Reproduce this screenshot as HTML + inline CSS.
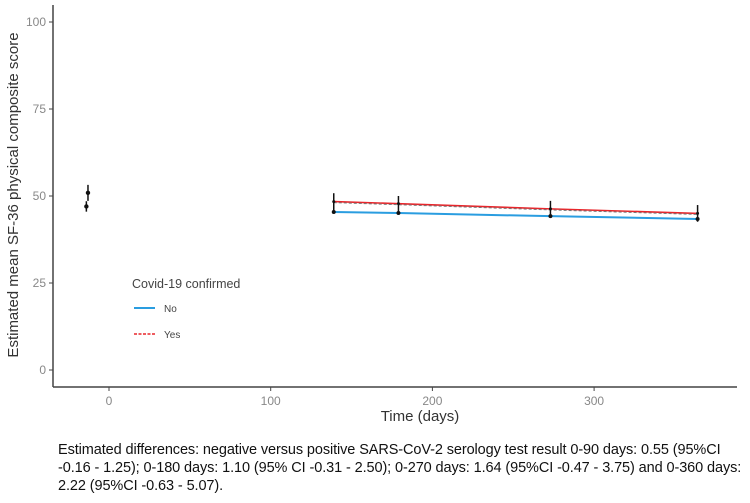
<!DOCTYPE html>
<html><head><meta charset="utf-8"><style>
body{margin:0;background:#fff;width:750px;height:503px;overflow:hidden;font-family:"Liberation Sans",sans-serif}
#cap{position:absolute;left:58px;top:441px;width:692px;font-size:14.5px;line-height:18px;color:#111;white-space:nowrap;letter-spacing:-0.1px}
</style></head><body>
<svg id="chart" width="750" height="440" style="position:absolute;left:0;top:0"></svg>
<div id="cap">Estimated differences: negative versus positive SARS-CoV-2 serology test result 0-90 days: 0.55 (95%CI<br>-0.16 - 1.25); 0-180 days: 1.10 (95% CI -0.31 - 2.50); 0-270 days: 1.64 (95%CI -0.47 - 3.75) and 0-360 days:<br>2.22 (95%CI -0.63 - 5.07).</div>
<script>
const xTicks=[0,100,200,300];
const yTicks=[0,25,50,75,100];
const baseDays=[-14,-13];
const baseVals=[47.0,50.9];
const baseLo=[45.5,48.6];
const baseHi=[48.5,53.2];
const days=[139,179,273,364];
const noVals=[45.4,45.1,44.2,43.4];
const yesVals=[48.4,47.8,46.3,45.0];
const yesLo=[45.8,45.4,44.0,42.6];
const yesHi=[50.8,50.0,48.6,47.4];
const NS="http://www.w3.org/2000/svg";
const svg=document.getElementById('chart');
const X=d=>109+d*1.617, Y=v=>370-v*3.48;
function el(t,a,name,parent){const e=document.createElementNS(NS,t);for(const k in a)e.setAttribute(k,a[k]);


(parent||svg).appendChild(e);return e;}
el('line',{x1:53,y1:5,x2:53,y2:387,stroke:'#444','stroke-width':1.5},'y-axis-line');
el('line',{x1:53,y1:387,x2:737,y2:387,stroke:'#444','stroke-width':1.5},'x-axis-line');
yTicks.forEach(v=>{el('line',{x1:49,y1:Y(v),x2:53,y2:Y(v),stroke:'#444'},'y-tick');
const t=el('text',{x:46,y:Y(v)+4,'text-anchor':'end','font-size':12,fill:'#888'},'y-tick-label');t.textContent=v;});
xTicks.forEach(d=>{el('line',{x1:X(d),y1:387,x2:X(d),y2:391,stroke:'#444'},'x-tick');
const t=el('text',{x:X(d),y:405,'text-anchor':'middle','font-size':12,fill:'#888'},'x-tick-label');t.textContent=d;});
let t=el('text',{x:420,y:421,'text-anchor':'middle','font-size':15,fill:'#333'},'x-axis-title');t.textContent='Time (days)';
t=el('text',{x:0,y:0,'text-anchor':'middle','font-size':15,fill:'#333',transform:'translate(18,195) rotate(-90)'},'y-axis-title');t.textContent='Estimated mean SF-36 physical composite score';
el('polyline',{points:days.map((d,i)=>X(d)+','+Y(noVals[i])).join(' '),fill:'none',stroke:'#2a9de0','stroke-width':2},'line-no');
el('polyline',{points:days.map((d,i)=>X(d)+','+Y(yesVals[i])).join(' '),fill:'none',stroke:'#e8262b','stroke-width':1.6},'line-yes');
el('polyline',{points:days.map((d,i)=>X(d)+','+Y(yesVals[i]-0.3)).join(' '),fill:'none',stroke:'#777','stroke-width':1,'stroke-dasharray':'3,2'},'line-yes-dash');
days.forEach((d,i)=>{el('line',{x1:X(d),y1:Y(yesLo[i]),x2:X(d),y2:Y(yesHi[i]),stroke:'#111','stroke-width':1.5},'error-bar');
el('circle',{cx:X(d),cy:Y(noVals[i]),r:2,fill:'#111'},'point-no');
el('circle',{cx:X(d),cy:Y(yesVals[i]),r:1.5,fill:'#111'},'point-yes');});
baseDays.forEach((d,i)=>{el('line',{x1:X(d),y1:Y(baseLo[i]),x2:X(d),y2:Y(baseHi[i]),stroke:'#111','stroke-width':1.5},'baseline-error-bar');
el('circle',{cx:X(d),cy:Y(baseVals[i]),r:2.2,fill:'#111'},'baseline-point');});
t=el('text',{x:132,y:288,'font-size':12.5,fill:'#444'},'legend-title');t.textContent='Covid-19 confirmed';
el('line',{x1:134,y1:308,x2:155,y2:308,stroke:'#2a9de0','stroke-width':2},'legend-swatch-no');
t=el('text',{x:164,y:312,'font-size':10,fill:'#444'},'legend-label-no');t.textContent='No';
el('line',{x1:134,y1:334,x2:155,y2:334,stroke:'#e8262b','stroke-width':1.6,'stroke-dasharray':'3,1.5'},'legend-swatch-yes');
t=el('text',{x:164,y:338,'font-size':10,fill:'#444'},'legend-label-yes');t.textContent='Yes';
</script>
</body></html>
